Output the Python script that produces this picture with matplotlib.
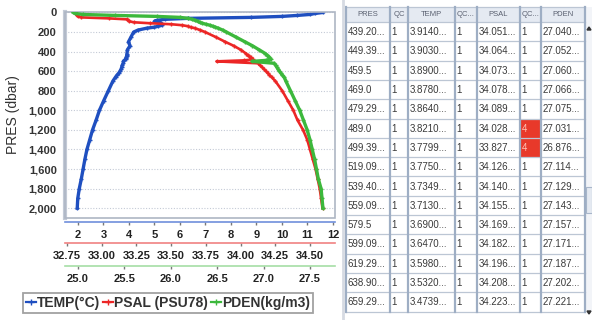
import matplotlib
matplotlib.use("Agg")
import matplotlib.pyplot as plt
from matplotlib.patches import Rectangle, Polygon
from matplotlib.lines import Line2D
from matplotlib.ticker import FuncFormatter

plt.rcParams['font.family'] = ['Liberation Sans', 'DejaVu Sans']

# profile
pres = [0, 10, 20, 30, 40, 50, 60, 70, 80, 90, 100, 110, 120, 130, 140, 150, 160,
        180, 200, 250, 300, 340, 380, 420,
        439.2, 449.39, 459.5, 469.0, 479.29, 489.0, 499.39, 519.09, 539.4, 559.09,
        579.5, 599.09, 619.29, 638.9, 659.29,
        700, 800, 900, 1000, 1100, 1200, 1300, 1400, 1500, 1600, 1700, 1800, 1900, 2000]
temp = [11.6, 11.3, 11.1, 10.6, 10.0, 8.8, 6.3, 5.4, 5.1, 5.0, 5.15, 5.25, 5.3, 5.3, 5.15, 5.0, 4.7,
        4.35, 4.18, 4.08, 3.98, 4.04, 3.94, 3.92,
        3.914, 3.903, 3.890, 3.878, 3.864, 3.821, 3.780, 3.775, 3.735, 3.713,
        3.690, 3.647, 3.598, 3.532, 3.474,
        3.37, 3.19, 3.01, 2.84, 2.71, 2.57, 2.46, 2.35, 2.27, 2.20, 2.13, 2.05, 1.99, 1.97]
psal = [32.81, 32.81, 32.82, 32.82, 32.83, 32.85, 33.05, 33.18, 33.19, 33.20, 33.23, 33.35, 33.50,
        33.58, 33.62, 33.64, 33.67,
        33.71, 33.745, 33.82, 33.89, 33.95, 34.00, 34.04,
        34.051, 34.064, 34.073, 34.078, 34.089, 34.028, 33.827, 34.126, 34.140, 34.155,
        34.169, 34.182, 34.196, 34.208, 34.223,
        34.25, 34.30, 34.34, 34.38, 34.41, 34.45, 34.48, 34.50, 34.52, 34.54, 34.555, 34.57, 34.58, 34.59]
pden = [24.95, 24.97, 25.05, 25.40, 25.85, 26.10, 26.19, 26.23, 26.26, 26.29, 26.31, 26.34, 26.38,
        26.42, 26.45, 26.48, 26.51,
        26.56, 26.60, 26.70, 26.80, 26.88, 26.95, 27.02,
        27.040, 27.052, 27.060, 27.066, 27.075, 27.031, 26.876, 27.114, 27.129, 27.143,
        27.157, 27.171, 27.187, 27.202, 27.221,
        27.24, 27.29, 27.34, 27.39, 27.43, 27.47, 27.50, 27.525, 27.55, 27.57, 27.59, 27.62, 27.63, 27.64]

temp_ticks = [2, 3, 4, 5, 6, 7, 8, 9, 10, 11, 12]
psal_ticks = [32.75, 33.00, 33.25, 33.50, 33.75, 34.00, 34.25, 34.50]
pden_ticks = [25.0, 25.5, 26.0, 26.5, 27.0, 27.5]
pres_ticks = [0, 200, 400, 600, 800, 1000, 1200, 1400, 1600, 1800, 2000]

# table on the right
headers = ['PRES', 'QC', 'TEMP', 'QC...', 'PSAL', 'QC...', 'PDEN']
tab_pres = ['439.20...', '449.39...', '459.5', '469.0', '479.29...', '489.0', '499.39...',
            '519.09...', '539.40...', '559.09...', '579.5', '599.09...', '619.29...',
            '638.90...', '659.29...']
tab_pres_qc = ['1'] * 15
tab_temp = ['3.9140...', '3.9030...', '3.8900...', '3.8780...', '3.8640...', '3.8210...',
            '3.7799...', '3.7750...', '3.7349...', '3.7130...', '3.6900...', '3.6470...',
            '3.5980...', '3.5320...', '3.4739...']
tab_temp_qc = ['1'] * 15
tab_psal = ['34.051...', '34.064...', '34.073...', '34.078...', '34.089...', '34.028...',
            '33.827...', '34.126...', '34.140...', '34.155...', '34.169...', '34.182...',
            '34.196...', '34.208...', '34.223...']
tab_psal_qc = ['1', '1', '1', '1', '1', '4', '4', '1', '1', '1', '1', '1', '1', '1', '1']
tab_pden = ['27.040...', '27.052...', '27.060...', '27.066...', '27.075...', '27.031...',
            '26.876...', '27.114...', '27.129...', '27.143...', '27.157...', '27.171...',
            '27.187...', '27.202...', '27.221...']

c_temp = '#1f4fc0'
c_psal = '#ec2626'
c_pden = '#3cb83c'

W, H = 592, 320
fig = plt.figure(figsize=(W / 100, H / 100), dpi=100)
ax = fig.add_axes([65 / W, (H - 218) / H, 270 / W, 206 / H])
ax_s = ax.twiny()
ax_d = ax.twiny()

ax.plot(temp, pres, color=c_temp, lw=2.4, marker='+', ms=3, mew=1)
ax_s.plot(psal, pres, color=c_psal, lw=1.9, marker='+', ms=3, mew=1)
ax_d.plot(pden, pres, color=c_pden, lw=2.4, marker='+', ms=3.5, mew=1)

ax.set_ylim(2100, -5)
ax.set_xlim(1.49, 12.08)
ax_s.set_xlim(32.736, 34.68)
ax_d.set_xlim(24.86, 27.77)

ax.set_yticks(pres_ticks)
ax.yaxis.set_major_formatter(FuncFormatter(lambda v, p: f'{int(v):,}'))
ax.tick_params(axis='y', length=0, pad=6, labelsize=8, labelcolor='#333333')
for lab in ax.get_yticklabels():
    lab.set_fontweight('bold')
ax.yaxis.grid(True, linestyle=(0, (1, 1.5)), color='#c4cad6', linewidth=0.8)
ax.set_ylabel('PRES (dbar)', fontsize=10, color='#333333')
ax.yaxis.set_label_coords(-0.168, 0.5)

axes_info = [
    (ax, temp_ticks, '{:g}', '#6f8fdc', 2.88),
    (ax_s, psal_ticks, '{:.2f}', '#f08282', 18.0),
    (ax_d, pden_ticks, '{:.1f}', '#a6dea6', 34.56),
]
for a, ticks, fmt, col, out in axes_info:
    for s in ['top', 'right', 'left']:
        a.spines[s].set_visible(False)
    a.xaxis.set_ticks_position('bottom')
    a.spines['bottom'].set_position(('outward', out))
    a.spines['bottom'].set_color(col)
    a.spines['bottom'].set_linewidth(1.2)
    a.set_xticks(ticks)
    a.set_xticklabels([fmt.format(t) for t in ticks], fontweight='bold')
    a.tick_params(axis='x', length=2.5, width=1, color='#777777', pad=3,
                  labelsize=8, labelcolor='#222222')

ax.spines['left'].set_visible(True)
ax.spines['left'].set_color('#c3cad6')
ax.spines['left'].set_linewidth(3)
ax.add_patch(Rectangle((0, 0), 1, 1, transform=ax.transAxes, fill=False,
                       edgecolor='#aeb6c4', lw=1.2, clip_on=False, zorder=5))

handles = [Line2D([], [], color=c, lw=1.6, marker='+', ms=4) for c in (c_temp, c_psal, c_pden)]
leg = fig.legend(handles, ['TEMP(°C)', 'PSAL (PSU78)', 'PDEN(kg/m3)'],
                 loc='center', bbox_to_anchor=(168 / W, 1 - 303 / H), ncol=3,
                 frameon=True, fancybox=False, edgecolor='#8a8a8a',
                 prop={'weight': 'bold', 'size': 10}, handlelength=0.7,
                 handletextpad=0.1, columnspacing=0.2, borderpad=0.25, borderaxespad=0)
leg.get_frame().set_linewidth(1.3)
for t in leg.get_texts():
    t.set_color('#333333')

# table drawn in pixel coordinates
tax = fig.add_axes([0, 0, 1, 1])
tax.set_xlim(0, W)
tax.set_ylim(H, 0)
tax.axis('off')

col_edges = [346, 390, 408, 455, 477, 520, 541, 585]
head_top, head_bot = 7, 22
row_h = 19.3
columns = [tab_pres, tab_pres_qc, tab_temp, tab_temp_qc, tab_psal, tab_psal_qc, tab_pden]
n_rows = len(tab_pres)
table_bot = head_bot + n_rows * row_h

tax.add_patch(Rectangle((col_edges[0], head_top), col_edges[-1] - col_edges[0], head_bot - head_top,
                        facecolor='#e5eaf2', edgecolor='none'))
for j, h in enumerate(headers):
    xc = (col_edges[j] + col_edges[j + 1]) / 2
    tax.text(xc, (head_top + head_bot) / 2 + 0.5, h, ha='center', va='center',
             fontsize=5.5, color='#5a6070')

for j, col in enumerate(columns):
    x0 = col_edges[j]
    for i, val in enumerate(col):
        y0 = head_bot + i * row_h
        fc, tc = 'white', '#3a3a3a'
        if j == 5 and val == '4':
            fc, tc = '#e8392a', '#ffc2b4'
        tax.add_patch(Rectangle((x0, y0), col_edges[j + 1] - x0, row_h, facecolor=fc, edgecolor='none'))
        tax.text(x0 + 1.5, y0 + row_h / 2 + 0.5, val, ha='left', va='center', fontsize=7, color=tc)

for i in range(n_rows + 1):
    y = head_bot + i * row_h
    tax.plot([col_edges[0], col_edges[-1]], [y, y], color='#bcc6d4', lw=0.9)
tax.plot([col_edges[0], col_edges[-1]], [head_top, head_top], color='#bcc6d4', lw=0.9)
for x in col_edges:
    tax.plot([x, x], [head_top, table_bot], color='#9eaec4', lw=1.6)
tax.plot([343, 343], [0, H], color='#d6dae2', lw=2)

# scroll bar
tax.add_patch(Rectangle((586, head_top), 6, table_bot - head_top, facecolor='#f2f4f8', edgecolor='none'))
tax.add_patch(Rectangle((586, 187), 6, 26, facecolor='#e4e9f1', edgecolor='#a8b6ca', lw=0.8))
tax.add_patch(Polygon([[587, 30], [591, 30], [589, 27]], closed=True, color='#333333'))
tax.add_patch(Polygon([[587, 311], [591, 311], [589, 314]], closed=True, color='#333333'))

fig.savefig('out.png', dpi=100)
